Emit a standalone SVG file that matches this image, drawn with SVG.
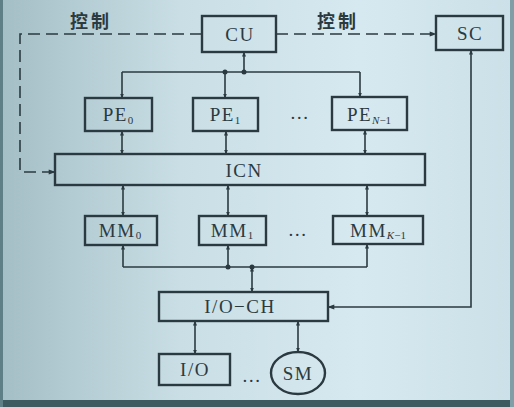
<svg xmlns="http://www.w3.org/2000/svg" width="514" height="407" viewBox="0 0 514 407">
<defs>
<linearGradient id="bg" x1="0" y1="0" x2="1" y2="0">
<stop offset="0" stop-color="#a4bec6"/>
<stop offset="0.35" stop-color="#c9dee5"/>
<stop offset="0.7" stop-color="#d7e9f0"/>
<stop offset="1" stop-color="#cbe0e8"/>
</linearGradient>
<marker id="ah" viewBox="0 0 10 10" refX="9" refY="5" markerWidth="5" markerHeight="5" orient="auto-start-reverse" markerUnits="userSpaceOnUse">
<path d="M0,1 L10,5 L0,9 z" fill="#2b3a40"/>
</marker>
<marker id="ahb" viewBox="0 0 10 10" refX="9" refY="5" markerWidth="9" markerHeight="7" orient="auto-start-reverse" markerUnits="userSpaceOnUse">
<path d="M0,1.5 L10,5 L0,8.5 z" fill="#2b3a40"/>
</marker>
</defs>
<style>
.box{fill:none;stroke:#2b3a40;stroke-width:2.4}
.ln{fill:none;stroke:#2b3a40;stroke-width:1.6}
.dash{fill:none;stroke:#2b3a40;stroke-width:1.6;stroke-dasharray:12,6}
.t{font-family:"Liberation Serif","Times New Roman",serif;font-size:19px;letter-spacing:1.5px;fill:#2b3a40;text-anchor:middle}
.s{font-size:11px;letter-spacing:0}
.zh{font-family:"Noto Sans CJK SC",sans-serif;font-size:18px;font-weight:bold;letter-spacing:3px;fill:#2b3a40;text-anchor:middle}
.dot{fill:#2b3a40}
</style>
<rect x="0" y="0" width="514" height="407" fill="url(#bg)"/>
<rect x="0" y="400" width="514" height="7" fill="#3c5a5f"/>
<rect x="0" y="0" width="3" height="407" fill="#5f7f86"/>
<rect x="510" y="0" width="4" height="407" fill="#7f9ea6"/>

<g id="connectors">
<path class="dash" d="M202,34 H20 V172 H55" marker-end="url(#ahb)"/>
<path class="dash" d="M276,34 H436" marker-end="url(#ahb)"/>
<line class="ln" x1="244" y1="72" x2="244" y2="52" marker-end="url(#ah)"/>
<line class="ln" x1="122" y1="72" x2="360" y2="72"/>
<line class="ln" x1="122" y1="72" x2="122" y2="98" marker-end="url(#ah)"/>
<line class="ln" x1="225" y1="72" x2="225" y2="98" marker-end="url(#ah)"/>
<line class="ln" x1="360" y1="72" x2="360" y2="97" marker-end="url(#ah)"/>
<circle class="dot" cx="244" cy="72" r="2.5"/>
<circle class="dot" cx="225" cy="72" r="2.5"/>
<line class="ln" x1="122" y1="131" x2="122" y2="154" marker-start="url(#ah)" marker-end="url(#ah)"/>
<line class="ln" x1="226" y1="131" x2="226" y2="154" marker-start="url(#ah)" marker-end="url(#ah)"/>
<line class="ln" x1="365" y1="130" x2="365" y2="154" marker-start="url(#ah)" marker-end="url(#ah)"/>
<line class="ln" x1="123" y1="185" x2="123" y2="216" marker-start="url(#ah)" marker-end="url(#ah)"/>
<line class="ln" x1="228" y1="185" x2="228" y2="216" marker-start="url(#ah)" marker-end="url(#ah)"/>
<line class="ln" x1="367" y1="185" x2="367" y2="216" marker-start="url(#ah)" marker-end="url(#ah)"/>
<line class="ln" x1="123" y1="267" x2="123" y2="245" marker-end="url(#ah)"/>
<line class="ln" x1="228" y1="267" x2="228" y2="245" marker-end="url(#ah)"/>
<line class="ln" x1="367" y1="267" x2="367" y2="244" marker-end="url(#ah)"/>
<line class="ln" x1="123" y1="267" x2="367" y2="267"/>
<circle class="dot" cx="228" cy="267" r="2.5"/>
<circle class="dot" cx="252" cy="267" r="2.5"/>
<line class="ln" x1="252" y1="267" x2="252" y2="292" marker-start="url(#ah)" marker-end="url(#ah)"/>
<line class="ln" x1="195" y1="321" x2="195" y2="354" marker-start="url(#ah)" marker-end="url(#ah)"/>
<line class="ln" x1="298" y1="321" x2="298" y2="352" marker-start="url(#ah)" marker-end="url(#ah)"/>
<path class="ln" d="M328,307 H471 V50" marker-start="url(#ahb)" marker-end="url(#ah)"/>
</g>

<text class="zh" x="91" y="28">控制</text>
<text class="zh" x="338" y="28">控制</text>

<g id="CU"><rect class="box" x="202" y="16" width="74" height="36"/><text class="t" x="240" y="41">CU</text></g>
<g id="SC"><rect class="box" x="436" y="16" width="67" height="34"/><text class="t" x="470" y="40">SC</text></g>
<g id="PE0"><rect class="box" x="85" y="98" width="67" height="33"/><text class="t" x="118" y="121">PE<tspan class="s" dy="3">0</tspan></text></g>
<g id="PE1"><rect class="box" x="193" y="98" width="65" height="33"/><text class="t" x="225" y="121">PE<tspan class="s" dy="3">1</tspan></text></g>
<text class="t" x="300" y="119">…</text>
<g id="PEN"><rect class="box" x="332" y="97" width="75" height="33"/><text class="t" x="369" y="121">PE<tspan class="s" dy="3" font-style="italic">N</tspan><tspan class="s">−1</tspan></text></g>
<g id="ICN"><rect class="box" x="55" y="154" width="370" height="31"/><text class="t" x="244" y="177">ICN</text></g>
<g id="MM0"><rect class="box" x="85" y="216" width="72" height="29"/><text class="t" x="120" y="237">MM<tspan class="s" dy="2">0</tspan></text></g>
<g id="MM1"><rect class="box" x="199" y="216" width="67" height="29"/><text class="t" x="232" y="237">MM<tspan class="s" dy="2">1</tspan></text></g>
<text class="t" x="298" y="236">…</text>
<g id="MMK"><rect class="box" x="333" y="216" width="90" height="28"/><text class="t" x="378" y="237">MM<tspan class="s" dy="2" font-style="italic">K</tspan><tspan class="s">−1</tspan></text></g>
<g id="IOCH"><rect class="box" x="159" y="292" width="169" height="29"/><text class="t" x="240" y="313">I/O−CH</text></g>
<g id="IO"><rect class="box" x="159" y="354" width="71" height="31"/><text class="t" x="195" y="376">I/O</text></g>
<text class="t" x="252" y="382">…</text>
<g id="SM"><ellipse class="box" cx="298" cy="373" rx="27" ry="21"/><text class="t" x="298" y="380">SM</text></g>
</svg>
